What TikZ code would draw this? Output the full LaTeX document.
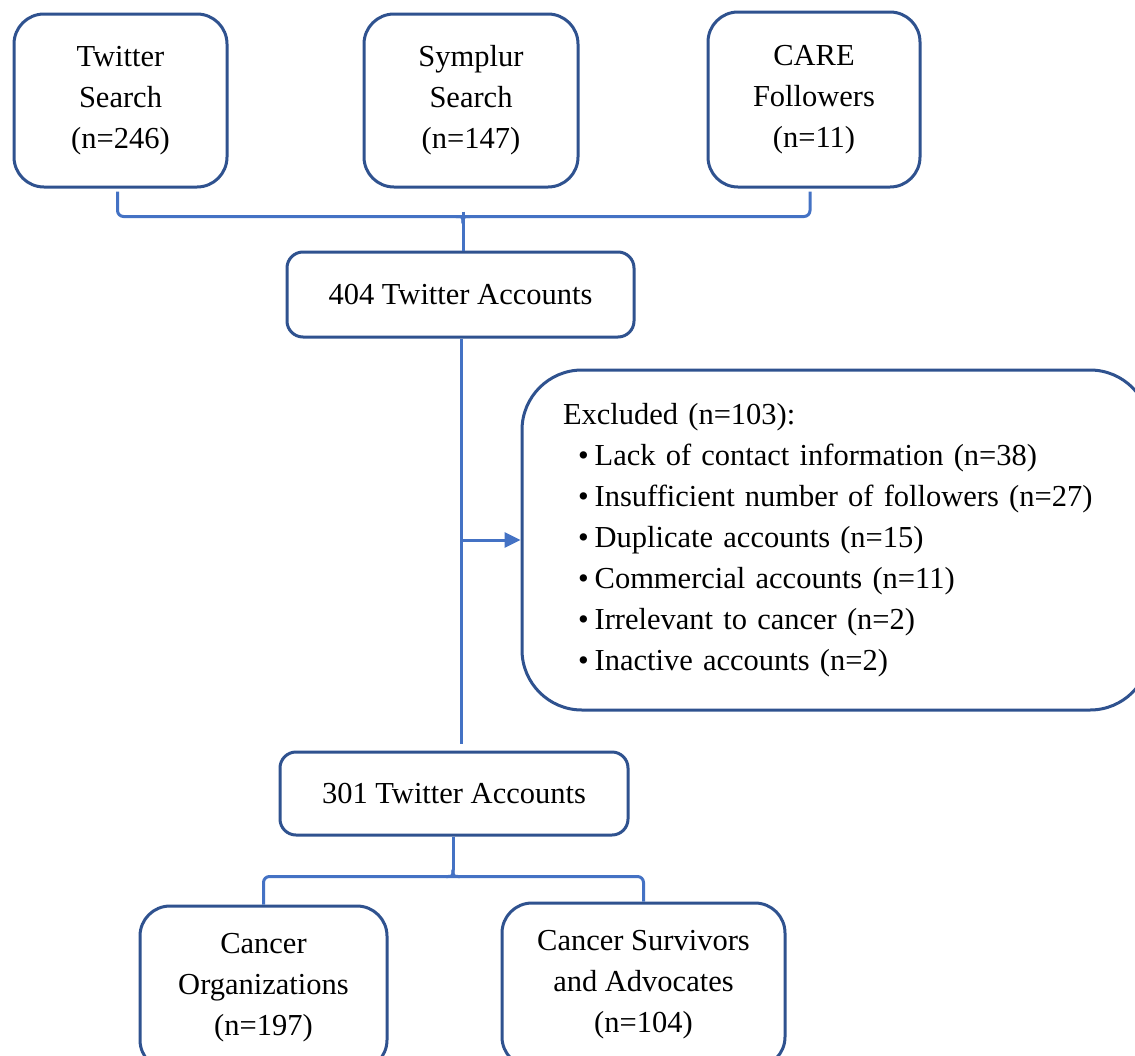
\documentclass[tikz,border=0pt]{standalone}
\usepackage{fontspec}
\setmainfont{Liberation Serif}
\usetikzlibrary{calc,arrows.meta}
\definecolor{boxblue}{HTML}{2F528F}
\definecolor{lineblue}{HTML}{4472C4}
\tikzset{
  bigbox/.style={draw=boxblue, line width=3pt, rounded corners=30pt, align=center, inner sep=0pt,
    font=\fontsize{30.5}{41}\selectfont},
  flatbox/.style={draw=boxblue, line width=3pt, rounded corners=16pt, align=center, inner sep=0pt,
    font=\fontsize{30.5}{41}\selectfont},
  exbox/.style={draw=boxblue, line width=3pt, rounded corners=60pt, align=left, inner xsep=41pt, inner ysep=0pt,
    font=\fontsize{30.5}{41}\selectfont},
  conn/.style={draw=lineblue, line width=3pt},
}
\begin{document}
\begin{tikzpicture}[x=1pt,y=-1pt]
\useasboundingbox (0,0) rectangle (1135,1055);
\fill[white] (0,0) rectangle (1135,1055);
\clip (0,0) rectangle (1135,1055);

\node[bigbox, minimum width=213pt, minimum height=173pt] (ts) at (120.5,100.5) {Twitter\\Search\\(n=246)};
\node[bigbox, minimum width=214pt, minimum height=173pt] (ss) at (471,100.5) {Symplur\\Search\\(n=147)};
\node[bigbox, minimum width=212pt, minimum height=175pt] (care) at (814,99.5) {CARE\\Followers\\(n=11)};

\node[flatbox, minimum width=347pt, minimum height=85pt] (a404) at (460.5,294.5) {404 Twitter Accounts};

\node[exbox, text width=546pt, minimum height=340pt] (ex) at (836,540) {Excluded (n=103):\\
\hspace*{15pt}\textbullet\hspace{6pt}Lack of contact information (n=38)\\
\hspace*{15pt}\textbullet\hspace{6pt}Insufficient number of followers (n=27)\\
\hspace*{15pt}\textbullet\hspace{6pt}Duplicate accounts (n=15)\\
\hspace*{15pt}\textbullet\hspace{6pt}Commercial accounts (n=11)\\
\hspace*{15pt}\textbullet\hspace{6pt}Irrelevant to cancer (n=2)\\
\hspace*{15pt}\textbullet\hspace{6pt}Inactive accounts (n=2)};

\node[flatbox, minimum width=348pt, minimum height=83pt] (a301) at (454,793.5) {301 Twitter Accounts};

\node[bigbox, minimum width=247pt, minimum height=164pt] (co) at (263.5,988) {Cancer\\Organizations\\(n=197)};
\node[bigbox, minimum width=283pt, minimum height=164pt] (cs) at (643.5,985) {Cancer Survivors\\and Advocates\\(n=104)};

% top brace
\coordinate (jt) at ($(a404.north)+(2.5,-34)$);
\draw[conn, rounded corners=6pt] ($(ts.south)+(-3,3)$) |- (jt) -| ($(care.south)+(-4,3)$);
\draw[conn] ($(jt)+(0,-5)$) -- (jt |- a404.north);
\draw[conn] ($(jt)+(-7,0)$) .. controls (jt) .. ($(jt)+(0,7)$);
\draw[conn] ($(jt)+(7,0)$) .. controls (jt) .. ($(jt)+(0,7)$);

% main vertical line and arrow
\coordinate (am) at ($(a404.south)+(0.5,0)$);
\draw[conn] (am) -- ($(am |- a301.north)+(0,-7)$);
\coordinate (ax) at (am |- ex.west);
\draw[conn, -{Triangle[length=16pt,width=15pt]}] (ax) -- (ex.west);

% bottom brace
\coordinate (jb) at ($(a301.south)+(-1,40)$);
\draw[conn, rounded corners=6pt] (co.north) |- (jb) -| (cs.north);
\draw[conn] (a301.south -| jb) -- ($(jb)+(0,-7)$);
\draw[conn] ($(jb)+(-7,0)$) .. controls (jb) .. ($(jb)+(0,-7)$);
\draw[conn] ($(jb)+(7,0)$) .. controls (jb) .. ($(jb)+(0,-7)$);
\end{tikzpicture}
\end{document}
